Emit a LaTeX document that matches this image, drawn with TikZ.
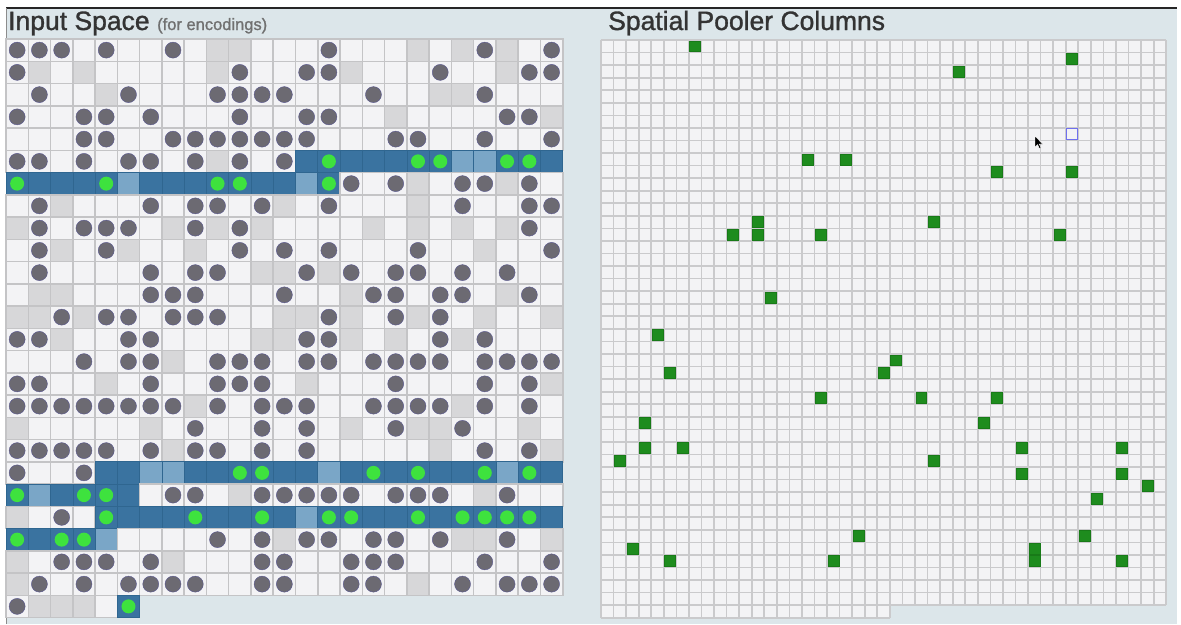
\documentclass[tikz,border=0pt]{standalone}
\usepackage{fontspec}
\setmainfont{Liberation Sans}
\newfontfamily\titlefont[FakeBold=1.2]{Liberation Sans}
\definecolor{panelbg}{HTML}{DCE6EA}
\definecolor{cellE}{HTML}{F3F3F5}
\definecolor{cellG}{HTML}{D7D7D9}
\definecolor{gridL}{HTML}{C4C4C6}
\definecolor{gridR}{HTML}{CACACC}
\definecolor{circC}{HTML}{6C6A72}
\definecolor{blueC}{HTML}{3A73A0}
\definecolor{blueD}{HTML}{2F6690}
\definecolor{lblue}{HTML}{7AA6C7}
\definecolor{greenD}{HTML}{3EE23E}
\definecolor{greenS}{HTML}{1E8C1E}
\definecolor{greenB}{HTML}{187A18}
\definecolor{hoverC}{HTML}{7070EE}
\definecolor{titleC}{HTML}{333333}
\definecolor{subC}{HTML}{707070}
\tikzset{
  cellempty/.style={fill=cellE, draw=gridL, line width=1.5pt},
  cellgray/.style={fill=cellG, draw=gridL, line width=1.5pt},
  cellblue/.style={fill=blueC, draw=blueD, line width=0.6pt},
  celllblue/.style={fill=lblue, draw=blueD, line width=0.6pt},
  dotgray/.style={fill=circC, draw=circC!80!blue, line width=0.4pt},
  dotgreen/.style={fill=greenD},
  rgridline/.style={draw=gridR, line width=1.7pt},
  sqgreen/.style={fill=greenS, draw=greenB, line width=0.6pt},
  sqhover/.style={draw=hoverC, line width=1.1pt},
  titletext/.style={font=\titlefont\fontsize{26.5}{30}\selectfont, text=titleC, inner sep=0pt, anchor=base west},
  subtext/.style={font=\titlefont\fontsize{16.5}{20}\selectfont, text=subC, inner sep=0pt, anchor=base west}
}
\newcount\gColIdx
\newcount\gRowIdx
\def\gridrow#1{\gColIdx=0\relax\gridrowi#1\relax}
\def\gridrowi#1{\ifx\relax#1\else\gridcell#1\advance\gColIdx by 1\relax\expandafter\gridrowi\fi}
\def\gridcell#1{%
  \pgfmathsetmacro\gXpos{6+22.27*\the\gColIdx}%
  \pgfmathsetmacro\gYpos{39+22.25*\the\gRowIdx}%
  \if#1.\path[cellempty] (\gXpos,\gYpos) rectangle ++(22.27,22.25);\fi
  \if#1g\path[cellgray] (\gXpos,\gYpos) rectangle ++(22.27,22.25);\fi
  \if#1o\path[cellempty] (\gXpos,\gYpos) rectangle ++(22.27,22.25);\path[dotgray] (\gXpos+11.13,\gYpos+11.12) circle[radius=8pt];\fi
  \if#1B\path[cellblue] (\gXpos,\gYpos) rectangle ++(22.27,22.25);\fi
  \if#1L\path[celllblue] (\gXpos,\gYpos) rectangle ++(22.27,22.25);\fi
  \if#1*\path[cellblue] (\gXpos,\gYpos) rectangle ++(22.27,22.25);\path[dotgreen] (\gXpos+11.13,\gYpos+11.12) circle[radius=7pt];\fi
}
\begin{document}
\begin{tikzpicture}[x=1pt,y=-1pt]
\useasboundingbox (0,0) rectangle (1181,624);
\fill[white] (0,0) rectangle (1181,624);
\fill[panelbg] (6,8) rectangle (1177,624);
\draw[black!85, line width=1.2pt] (6,8) -- (1177,8);
\draw[black!45, line width=1pt] (6,8) -- (6,624);
% titles
\node[titletext] (tin) at (8,30) {Input Space};
\node[subtext] (tsub) at (157,30) {(for encodings)};
\node[titletext] (tsp) at (608,30) {Spatial Pooler Columns};
% input space grid
\gRowIdx=0 \gridrow{ooo.o..o.gg...o...g.gog.o}
\gRowIdx=1 \gridrow{og.g.....go..oog...o..goo}
\gRowIdx=2 \gridrow{.o..go...oooo...o..ggo...}
\gRowIdx=3 \gridrow{o..oo.o...o..oo..g....oog}
\gRowIdx=4 \gridrow{...oo..ooooooo...oo..o..o}
\gRowIdx=5 \gridrow{oo.o.oo.ogo.oB*BBB**LL**B}
\gRowIdx=6 \gridrow{*BBB*LBBB**BBL*o.og.oogo.}
\gRowIdx=7 \gridrow{.og...o.oo.og.o...g.o..oo}
\gRowIdx=8 \gridrow{go.ooo.gogog....g.g.g.go.}
\gRowIdx=9 \gridrow{.og.og..g.o.o.o...o..g..o}
\gRowIdx=10 \gridrow{.o....o.oo.ggogo.oo.o.o..}
\gRowIdx=11 \gridrow{.gg...ooo...o..goo.oo.go.}
\gRowIdx=12 \gridrow{ggogoo.ooo..ggog.ogo.g..g}
\gRowIdx=13 \gridrow{oog..oo....ggoog.g.ogo...}
\gRowIdx=14 \gridrow{...o.oog.ooo.oo.oooo.oooo}
\gRowIdx=15 \gridrow{oo..g.o..ooo.g...o...o.og}
\gRowIdx=16 \gridrow{oooooooogo.ooo..oooogo.o.}
\gRowIdx=17 \gridrow{g.....g.o..o.o.g.oggo..g.}
\gRowIdx=18 \gridrow{ooooo.ogoo.o.o.....g.o.og}
\gRowIdx=19 \gridrow{o..oBBLLBB**BBLB*B*BB*L*B}
\gRowIdx=20 \gridrow{*LB**B.oo.gooooo.ooo.go..}
\gRowIdx=21 \gridrow{g.o.*BBB*BB*BL**BB*B****B}
\gRowIdx=22 \gridrow{*B**L....o.ogoo.oo.oggo.g}
\gRowIdx=23 \gridrow{g.ooo.og...oo..ooo...o..o}
\gRowIdx=24 \gridrow{go.o.oooo..oo..oo.g.o.ooo}
\gRowIdx=25 \gridrow{oggg.*}
% spatial pooler grid
\fill[cellE] (601,40) rectangle (1166.2,605.2);
\fill[cellE] (601,605.2) rectangle (889.88,617.76);
\foreach \k in {0,...,45} {
  \draw[rgridline] (601,40+12.56*\k) -- (1166.2,40+12.56*\k);
  \draw[rgridline] (601+12.56*\k,40) -- (601+12.56*\k,605.2);
}
\foreach \k in {0,...,23} {
  \draw[rgridline] (601+12.56*\k,605.2) -- (601+12.56*\k,617.76);
}
\draw[rgridline] (601,617.76) -- (889.88,617.76);
\foreach \c/\r in {7/0,37/1,28/2,16/9,19/9,31/10,37/10,12/14,26/14,10/15,12/15,17/15,36/15,13/20,4/23,23/25,5/26,22/26,17/28,25/28,31/28,30/30,3/30,3/32,6/32,33/32,41/32,1/33,26/33,33/34,41/34,43/35,39/36,20/39,38/39,2/40,34/40,34/41,5/41,18/41,41/41} {
  \path[sqgreen] (601+12.56*\c+0.8,40+12.56*\r+0.8) rectangle ++(10.96,10.96);
}
\path[sqhover] (601+12.56*37+1,40+12.56*7+1) rectangle ++(10.56,10.56);
% mouse pointer
\fill[black, draw=white, line width=0.4pt] (1035,136) -- (1035,147) -- (1037.6,144.6) -- (1039.4,148.6) -- (1041,147.9) -- (1039.2,144) -- (1042.6,144) -- cycle;
\end{tikzpicture}
\end{document}
